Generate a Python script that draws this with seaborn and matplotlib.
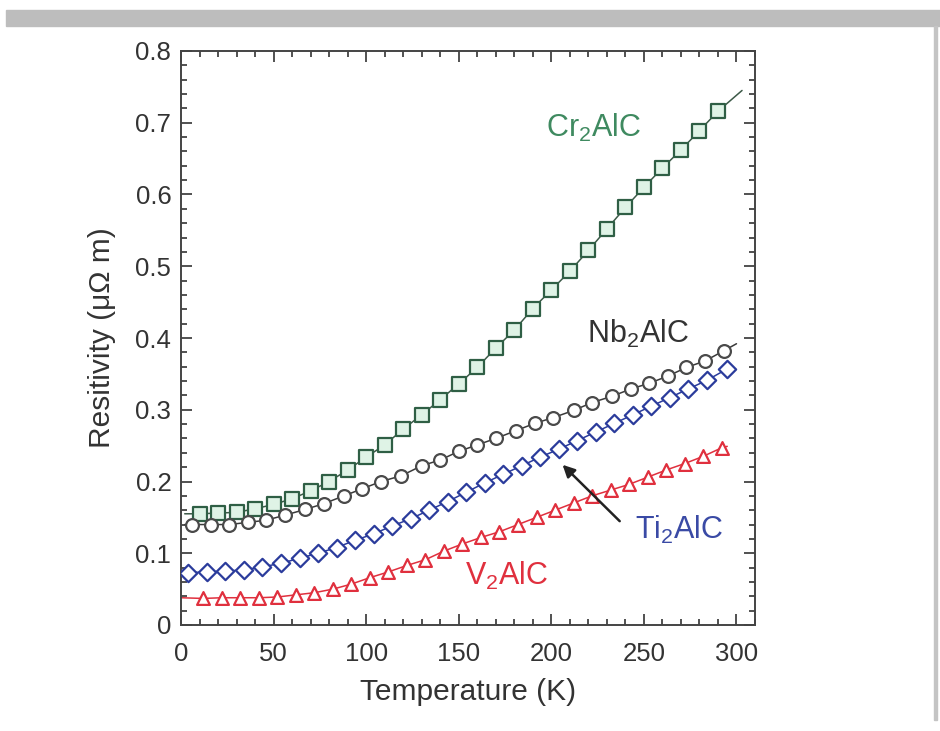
import numpy as np
import pandas as pd
import seaborn as sns
import matplotlib.pyplot as plt
from matplotlib.patches import Rectangle
from matplotlib.ticker import MultipleLocator

# values (temperature in K, resistivity in uOhm m)

cr_T = [10, 20, 30, 40, 50, 60, 70, 80, 90, 100, 110, 120, 130, 140, 150,
        160, 170, 180, 190, 200, 210, 220, 230, 240, 250, 260, 270, 280, 290]
cr_R = [0.155, 0.156, 0.157, 0.162, 0.168, 0.176, 0.187, 0.200, 0.216, 0.234,
        0.251, 0.273, 0.293, 0.314, 0.336, 0.359, 0.386, 0.411, 0.441, 0.467,
        0.493, 0.522, 0.552, 0.582, 0.610, 0.637, 0.662, 0.689, 0.716]
cr_ends_T = [2, 303]
cr_ends_R = [0.155, 0.745]

nb_T = [6, 16, 26, 36, 46, 56, 67, 77, 88, 98, 108, 119, 130, 140, 150,
        160, 170, 181, 191, 201, 212, 222, 233, 243, 253, 263, 273, 283, 293]
nb_R = [0.140, 0.140, 0.140, 0.143, 0.146, 0.153, 0.161, 0.169, 0.180, 0.190,
        0.200, 0.208, 0.222, 0.230, 0.242, 0.251, 0.260, 0.271, 0.281, 0.289,
        0.299, 0.310, 0.319, 0.329, 0.337, 0.347, 0.359, 0.368, 0.382]
nb_ends_T = [2, 300]
nb_ends_R = [0.140, 0.392]

ti_T = [4, 14, 24, 34, 44, 54, 64, 74, 84, 94, 104, 114, 124, 134, 144,
        154, 164, 174, 184, 194, 204, 214, 224, 234, 244, 254, 264, 274, 284, 295]
ti_R = [0.073, 0.074, 0.075, 0.077, 0.081, 0.086, 0.093, 0.100, 0.108, 0.118,
        0.127, 0.138, 0.148, 0.160, 0.172, 0.185, 0.198, 0.210, 0.222, 0.234,
        0.245, 0.257, 0.269, 0.281, 0.293, 0.305, 0.317, 0.329, 0.341, 0.357]
ti_ends_T = [1, 297]
ti_ends_R = [0.073, 0.359]

v_T = [12, 22, 32, 42, 52, 62, 72, 82, 92, 102, 112, 122, 132, 142, 152,
       162, 172, 182, 192, 202, 212, 222, 232, 242, 252, 262, 272, 282, 292]
v_R = [0.037, 0.038, 0.038, 0.038, 0.039, 0.042, 0.045, 0.050, 0.057, 0.066,
       0.074, 0.083, 0.091, 0.103, 0.113, 0.122, 0.130, 0.140, 0.150, 0.160,
       0.170, 0.180, 0.188, 0.196, 0.206, 0.216, 0.225, 0.235, 0.247]
v_ends_T = [0, 295]
v_ends_R = [0.038, 0.249]

sns.set_style('ticks')
plt.rcParams['font.family'] = ['Liberation Sans', 'DejaVu Sans']
plt.rcParams['mathtext.fontset'] = 'custom'
plt.rcParams['mathtext.rm'] = 'Liberation Sans'
plt.rcParams['mathtext.it'] = 'Liberation Sans:italic'

fig = plt.figure(figsize=(9.4, 7.31), dpi=100)
ax = fig.add_axes([181 / 940, 1 - 625 / 731, 574 / 940, 574 / 731])

series = [
    (cr_T, cr_R, cr_ends_T, cr_ends_R, 's', '#2f5f45', '#dff3e6', '#3d5a48', 110),
    (nb_T, nb_R, nb_ends_T, nb_ends_R, 'o', '#4a4a4a', 'white', '#3a3a3a', 85),
    (ti_T, ti_R, ti_ends_T, ti_ends_R, 'D', '#2b3c9c', 'white', '#2b3c9c', 78),
    (v_T, v_R, v_ends_T, v_ends_R, '^', '#e0303e', 'white', '#e0303e', 85),
]

for T, R, eT, eR, mk, edge, face, lc, size in series:
    line = pd.DataFrame({'T': [eT[0]] + T + [eT[1]], 'R': [eR[0]] + R + [eR[1]]})
    sns.lineplot(data=line, x='T', y='R', color=lc, lw=1.1, ax=ax, sort=True)
    pts = pd.DataFrame({'T': T, 'R': R})
    sns.scatterplot(data=pts, x='T', y='R', marker=mk, s=size, facecolor=face,
                    edgecolor=edge, linewidth=1.6, ax=ax, zorder=3)

ax.set_xlim(0, 310)
ax.set_ylim(0, 0.8)
ax.xaxis.set_major_locator(MultipleLocator(50))
ax.xaxis.set_minor_locator(MultipleLocator(10))
ax.yaxis.set_major_locator(MultipleLocator(0.1))
ax.yaxis.set_minor_locator(MultipleLocator(0.02))
ax.set_yticks(np.arange(0, 0.81, 0.1))
ax.set_yticklabels(['0'] + ['%.1f' % v for v in np.arange(0.1, 0.81, 0.1)])

ax.tick_params(which='both', direction='in', top=True, right=True,
               colors='#333333', labelsize=18.5, width=1.2)
ax.tick_params(which='major', length=8)
ax.tick_params(which='minor', length=4.5)
ax.tick_params(axis='x', pad=12)
ax.tick_params(axis='y', pad=7)
for sp in ax.spines.values():
    sp.set_color('#444444')
    sp.set_linewidth(1.4)

ax.set_xlabel('Temperature (K)', fontsize=21.5, color='#333333', labelpad=9)
ax.set_ylabel('Resitivity (μΩ m)', fontsize=21.5, color='#333333', labelpad=14)

# curve labels and arrow
ax.text(223, 0.693, 'Cr$_2$AlC', fontsize=22, color='#3f8a60', ha='center', va='center')
ax.text(247, 0.406, 'Nb$_2$AlC', fontsize=22, color='#333333', ha='center', va='center')
ax.text(269, 0.132, 'Ti$_2$AlC', fontsize=22, color='#3a4aa5', ha='center', va='center')
ax.text(176, 0.069, 'V$_2$AlC', fontsize=22, color='#e0303e', ha='center', va='center')
ax.annotate('', xy=(205, 0.226), xytext=(238, 0.142),
            arrowprops=dict(arrowstyle='-|>', color='#222222', lw=1.8,
                            mutation_scale=18))

# grey scan borders
fig.patches.append(Rectangle((6 / 940, 1 - 26 / 731), 1, 16 / 731,
                             transform=fig.transFigure, color='#bdbdbd', zorder=0))
fig.patches.append(Rectangle((934 / 940, 1 - 720 / 731), 3 / 940, 694 / 731,
                             transform=fig.transFigure, color='#c4c4c4', zorder=0))

fig.savefig('out.png', dpi=100)
